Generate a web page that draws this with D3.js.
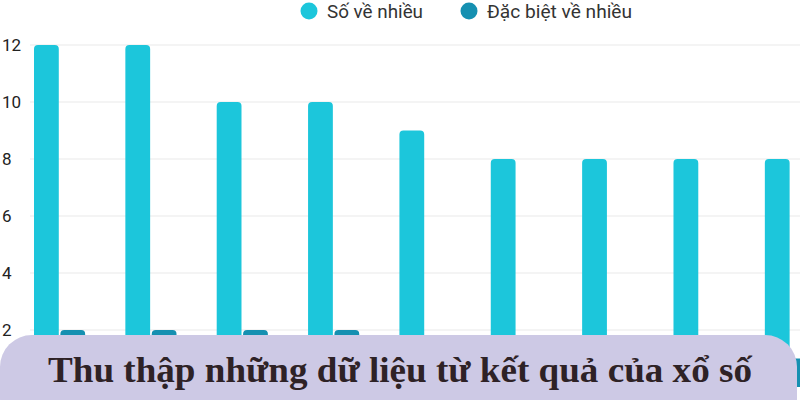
<!DOCTYPE html>
<html>
<head>
<meta charset="utf-8">
<script src="https://cdn.jsdelivr.net/npm/d3@7"></script>
<style>
  html, body { margin: 0; padding: 0; background: #fff; }
  svg { display: block; }
</style>
</head>
<body>
<div id="chart"></div>
<script>
'use strict';

var categories = ['c1', 'c2', 'c3', 'c4', 'c5', 'c6', 'c7', 'c8', 'c9'];
var seriesNames = ['Số về nhiều', 'Đặc biệt về nhiều'];
var soVeNhieu = [12, 12, 10, 10, 9, 8, 8, 8, 8];
var dacBietVeNhieu = [2, 2, 2, 2, 1, 1, 1, 1, 1];
var yTicks = [2, 4, 6, 8, 10, 12];
var bannerText = 'Thu thập những dữ liệu từ kết quả của xổ số';

var width = 800;
var height = 400;
var colors = ['#1cc6db', '#1590b1'];

var svg = d3.select('#chart').append('svg')
    .attr('width', width)
    .attr('height', height);

var y = d3.scaleLinear().domain([0, 12]).range([387, 45]);

var x = d3.scaleBand()
    .domain(categories)
    .range([34, 816])
    .paddingInner(0.44)
    .paddingOuter(0);

var xSub = d3.scaleBand()
    .domain(seriesNames)
    .range([0, x.bandwidth()])
    .paddingInner(0.06);

// grid
svg.append('g').selectAll('line')
    .data(yTicks)
    .enter().append('line')
    .attr('x1', 30)
    .attr('x2', width)
    .attr('y1', function(d) { return y(d); })
    .attr('y2', function(d) { return y(d); })
    .style('stroke', '#e9e9e9')
    .style('stroke-width', 1);

// y labels
svg.append('g').selectAll('text')
    .data(yTicks)
    .enter().append('text')
    .attr('x', 2)
    .attr('y', function(d) { return y(d); })
    .attr('dy', '0.35em')
    .style('font-family', 'Roboto, sans-serif')
    .style('font-size', '17px')
    .style('fill', '#222')
    .text(function(d) { return d; });

var rows = categories.map(function(c, i) {
    return { cat: c, values: [soVeNhieu[i], dacBietVeNhieu[i]] };
});

// bar with rounded top corners
var barPath = function(x0, w, yTop, yBase) {
    var r = Math.min(4, w / 2, yBase - yTop);
    return 'M' + x0 + ',' + yBase +
        'V' + (yTop + r) +
        'Q' + x0 + ',' + yTop + ' ' + (x0 + r) + ',' + yTop +
        'H' + (x0 + w - r) +
        'Q' + (x0 + w) + ',' + yTop + ' ' + (x0 + w) + ',' + (yTop + r) +
        'V' + yBase + 'Z';
};

var groups = svg.append('g').selectAll('g')
    .data(rows)
    .enter().append('g')
    .attr('transform', function(d) { return 'translate(' + x(d.cat) + ',0)'; });

groups.selectAll('path')
    .data(function(d) {
        return d.values.map(function(v, i) { return { name: seriesNames[i], value: v, idx: i }; });
    })
    .enter().append('path')
    .attr('d', function(d) { return barPath(xSub(d.name), xSub.bandwidth(), y(d.value), y(0)); })
    .style('fill', function(d) { return colors[d.idx]; });

// legend
var legendX = [309, 469];
var legendW = [96, 145];
var legend = svg.append('g').selectAll('g')
    .data(seriesNames)
    .enter().append('g')
    .attr('transform', function(d, i) { return 'translate(' + legendX[i] + ',11)'; });

legend.append('circle')
    .attr('r', 8.5)
    .style('fill', function(d, i) { return colors[i]; });

legend.append('text')
    .attr('x', 18)
    .attr('dy', '0.36em')
    .attr('textLength', function(d, i) { return legendW[i]; })
    .attr('lengthAdjust', 'spacingAndGlyphs')
    .style('font-family', 'Roboto, sans-serif')
    .style('font-size', '19px')
    .style('fill', '#333')
    .text(function(d) { return d; });

// banner
svg.append('rect')
    .attr('x', 0)
    .attr('y', 335)
    .attr('width', 797)
    .attr('height', 95)
    .attr('rx', 32)
    .style('fill', '#cdc9e5');

svg.append('text')
    .attr('x', 400)
    .attr('y', 382)
    .attr('text-anchor', 'middle')
    .attr('textLength', 704)
    .attr('lengthAdjust', 'spacingAndGlyphs')
    .style('font-family', '"Liberation Serif", "DejaVu Serif", serif')
    .style('font-weight', 'bold')
    .style('font-size', '36px')
    .style('fill', '#2e2226')
    .text(bannerText);
</script>
</body>
</html>
